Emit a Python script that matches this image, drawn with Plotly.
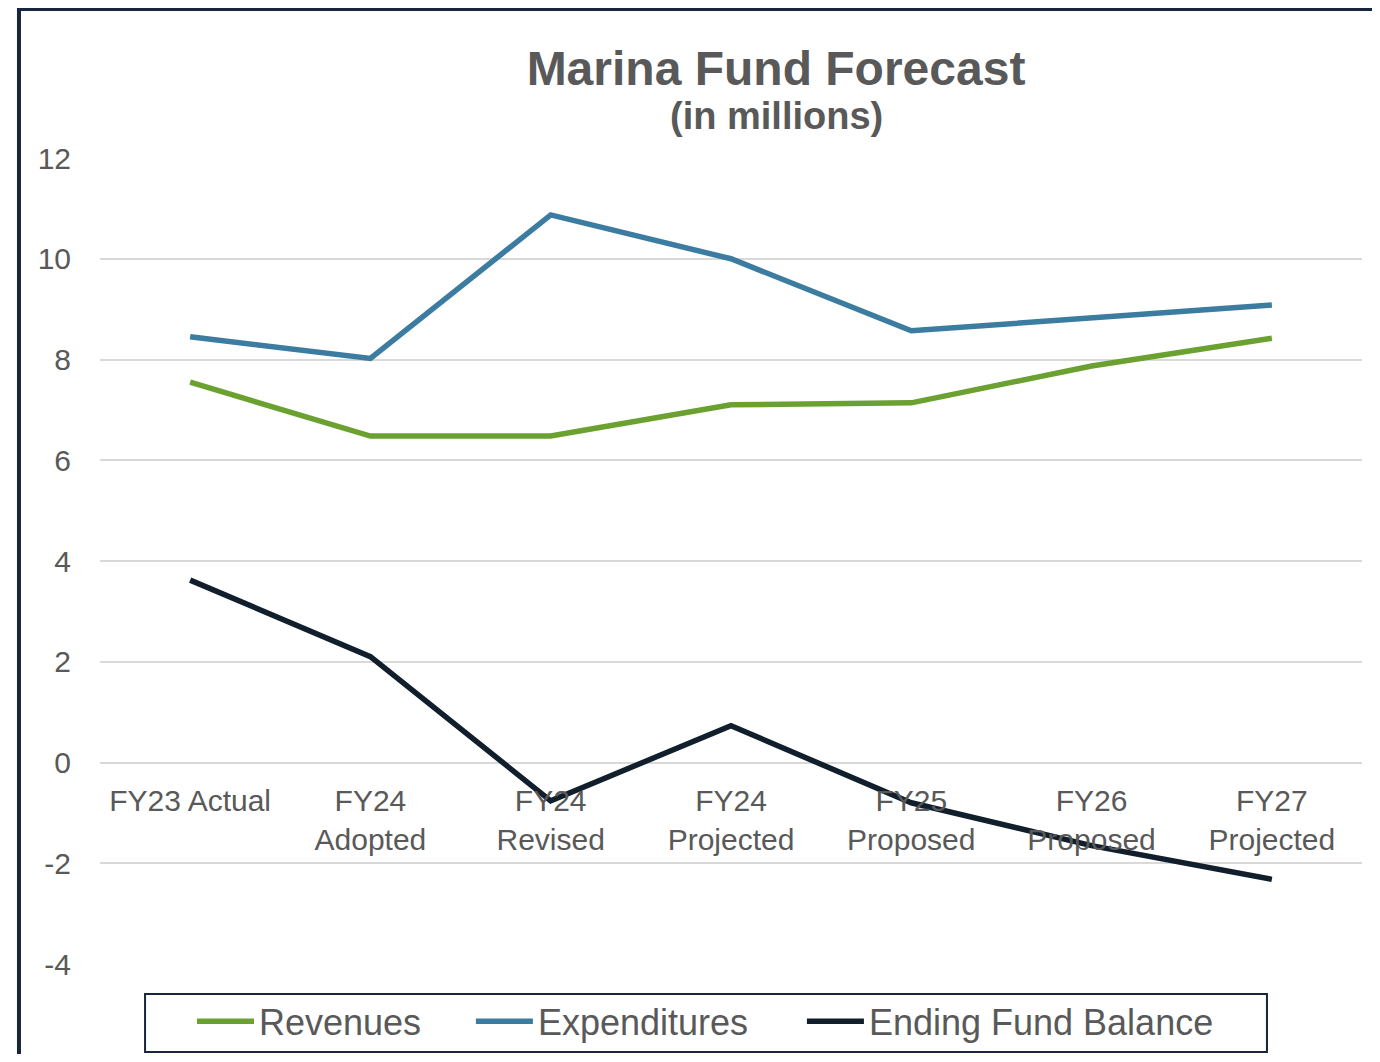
import plotly.graph_objects as go

CATEGORIES = [
    "FY23 Actual",
    "FY24<br>Adopted",
    "FY24<br>Revised",
    "FY24<br>Projected",
    "FY25<br>Proposed",
    "FY26<br>Proposed",
    "FY27<br>Projected",
]
REVENUES = [7.55, 6.48, 6.48, 7.10, 7.14, 7.87, 8.42]
EXPENDITURES = [8.45, 8.02, 10.87, 10.0, 8.57, 8.83, 9.08]
ENDING_BALANCE = [3.62, 2.10, -0.76, 0.73, -0.80, -1.65, -2.32]

Y_TICKS = [-4, -2, 0, 2, 4, 6, 8, 10, 12]

SERIES = [
    ("Revenues", REVENUES, "#6aa130", "legend", 0.0729),
    ("Expenditures", EXPENDITURES, "#3b7ca0", "legend2", 0.2939),
    ("Ending Fund Balance", ENDING_BALANCE, "#111e2c", "legend3", 0.5562),
]

FONT = "Liberation Sans, Arial, sans-serif"
GREY = "#595959"
NAVY = "#17263a"

fig = go.Figure()
legends = {}
for name, values, color, leg, leg_x in SERIES:
    fig.add_trace(
        go.Scatter(
            x=CATEGORIES,
            y=values,
            mode="lines",
            name=name,
            legend=leg,
            line=dict(color=color, width=5.5),
        )
    )
    legends[leg] = dict(
        orientation="h",
        x=leg_x, xanchor="left",
        y=-0.0338, yanchor="top",
        itemwidth=57,
        font=dict(size=36, color=GREY, family=FONT),
        bgcolor="rgba(0,0,0,0)",
        borderwidth=0,
    )

# outer chart frame (only left and top edges are visible)
fig.add_shape(
    type="rect", xref="paper", yref="paper",
    x0=-0.0642, x1=1.3, y0=-0.5, y1=1.1849,
    line=dict(color=NAVY, width=4), layer="above",
)
# legend frame
fig.add_shape(
    type="rect", xref="paper", yref="paper",
    x0=0.0357, x1=0.9247, y0=-0.1092, y1=-0.0372,
    line=dict(color=NAVY, width=2), layer="above",
)

fig.add_annotation(
    text="<b>(in millions)</b>", xref="paper", yref="paper",
    x=(776 - 100) / 1262, y=(964 - 116) / 806,
    xanchor="center", yanchor="middle", showarrow=False,
    font=dict(size=38, color=GREY, family=FONT),
)

fig.update_layout(
    width=1364,
    height=1046,
    margin=dict(l=92, r=10, t=150, b=90, autoexpand=False),
    paper_bgcolor="white",
    plot_bgcolor="white",
    font=dict(family=FONT, color=GREY),
    title=dict(
        text="<b>Marina Fund Forecast</b>",
        x=768 / 1364, xanchor="center",
        y=1 - 60 / 1046, yanchor="middle",
        font=dict(size=48, color=GREY, family=FONT),
    ),
    xaxis=dict(
        type="category",
        range=[-0.5, 6.5],
        anchor="free",
        position=0.25,
        automargin=False,
        showgrid=False,
        showline=False,
        zeroline=False,
        ticks="outside",
        ticklen=11,
        tickcolor="rgba(0,0,0,0)",
        tickfont=dict(size=30, color=GREY),
    ),
    yaxis=dict(
        range=[-4, 12],
        tickmode="array",
        tickvals=Y_TICKS,
        ticktext=[str(v) for v in Y_TICKS],
        automargin=False,
        showgrid=True,
        gridcolor="#d9d9d9",
        gridwidth=2,
        zeroline=True,
        zerolinecolor="#d9d9d9",
        zerolinewidth=2,
        showline=False,
        tickfont=dict(size=30, color=GREY),
        ticks="outside",
        ticklen=22,
        tickcolor="rgba(0,0,0,0)",
    ),
    showlegend=True,
    **legends,
)

fig.write_html("out.html")
